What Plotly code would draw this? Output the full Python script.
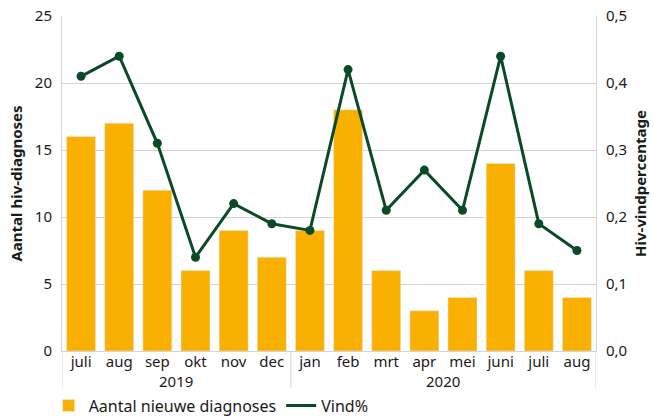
import plotly.graph_objects as go

months = ["juli", "aug", "sep", "okt", "nov", "dec",
          "jan", "feb", "mrt", "apr", "mei", "juni", "juli", "aug"]
years = ["2019"] * 6 + ["2020"] * 8
nieuwe_diagnoses = [16, 17, 12, 6, 9, 7, 9, 18, 6, 3, 4, 14, 6, 4]
vind_pct = [0.41, 0.44, 0.31, 0.14, 0.22, 0.19, 0.18, 0.42, 0.21, 0.27, 0.21, 0.44, 0.19, 0.15]

ORANGE = "#f9b000"
GREEN = "#0b4a26"
GRID = "#d4d4d4"
TEXT = "#1a1a1a"
FONT = "Noto Sans"

# positions along the category axis (one slot per month)
idx = list(range(len(months)))

fig = go.Figure()
fig.add_trace(go.Bar(
    x=idx,
    y=nieuwe_diagnoses,
    name="Aantal nieuwe diagnoses",
    marker_color=ORANGE,
))
fig.add_trace(go.Scatter(
    x=idx,
    y=vind_pct,
    name="Vind%",
    mode="lines+markers",
    line=dict(color=GREEN, width=3),
    marker=dict(color=GREEN, size=9),
    yaxis="y2",
    showlegend=False,
))
# legend entry for the line shows only the line, as in the source
fig.add_trace(go.Scatter(
    x=[None], y=[None],
    name="Vind%",
    mode="lines",
    line=dict(color=GREEN, width=3),
    yaxis="y2",
))

# year group labels and dividers below the month labels
annotations = []
shapes = []
edges = [-0.5]
for yr in dict.fromkeys(years):
    pos = [i for i, y in zip(idx, years) if y == yr]
    annotations.append(dict(
        x=sum(pos) / len(pos), xref="x",
        y=-0.09, yref="paper",
        text=yr, showarrow=False,
        xanchor="center", yanchor="middle",
        font=dict(size=15, family=FONT, color=TEXT),
    ))
    edges.append(pos[-1] + 0.5)
for e in edges:
    shapes.append(dict(
        type="line", xref="x", yref="paper",
        x0=e, x1=e, y0=-0.11, y1=0,
        line=dict(color=GRID, width=1),
    ))

fig.update_layout(
    width=654,
    height=419,
    margin=dict(l=62, r=58, t=16, b=68, autoexpand=False),
    plot_bgcolor="white",
    paper_bgcolor="white",
    font=dict(family=FONT, size=15, color=TEXT),
    separators=",.",
    bargap=0.24,
    showlegend=True,
    legend=dict(
        orientation="h",
        x=-0.025, xanchor="left",
        y=-0.163, yanchor="middle",
        font=dict(size=16, family=FONT, color=TEXT),
        itemwidth=30,
    ),
    annotations=annotations,
    shapes=shapes,
    xaxis=dict(
        range=[-0.5, len(months) - 0.5],
        tickmode="array", tickvals=idx, ticktext=months,
        showline=True, linecolor=GRID,
        showgrid=False, zeroline=False,
        ticks="", ticklen=0,
        ticklabelstandoff=-3,
        tickfont=dict(size=15, family=FONT, color=TEXT),
    ),
    yaxis=dict(
        range=[0, 25],
        dtick=5,
        showgrid=True, gridcolor=GRID,
        showline=True, linecolor=GRID,
        zeroline=False,
        ticklabelstandoff=6,
        tickfont=dict(size=15, family=FONT, color=TEXT),
        title=dict(text="<b>Aantal hiv-diagnoses</b>", font=dict(size=15, family=FONT, color=TEXT), standoff=8),
    ),
    yaxis2=dict(
        overlaying="y",
        side="right",
        range=[0, 0.5],
        dtick=0.1,
        tickformat=".1f",
        showgrid=False,
        showline=True, linecolor=GRID,
        zeroline=False,
        ticklabelstandoff=6,
        tickfont=dict(size=15, family=FONT, color=TEXT),
        title=dict(text="<b>Hiv-vindpercentage</b>", font=dict(size=15, family=FONT, color=TEXT), standoff=8),
    ),
)

# the page's default body margin would shift the figure by 8px
fig.write_html(
    "out.html",
    config={"displayModeBar": False},
    post_script="document.body.style.margin='0';",
)
